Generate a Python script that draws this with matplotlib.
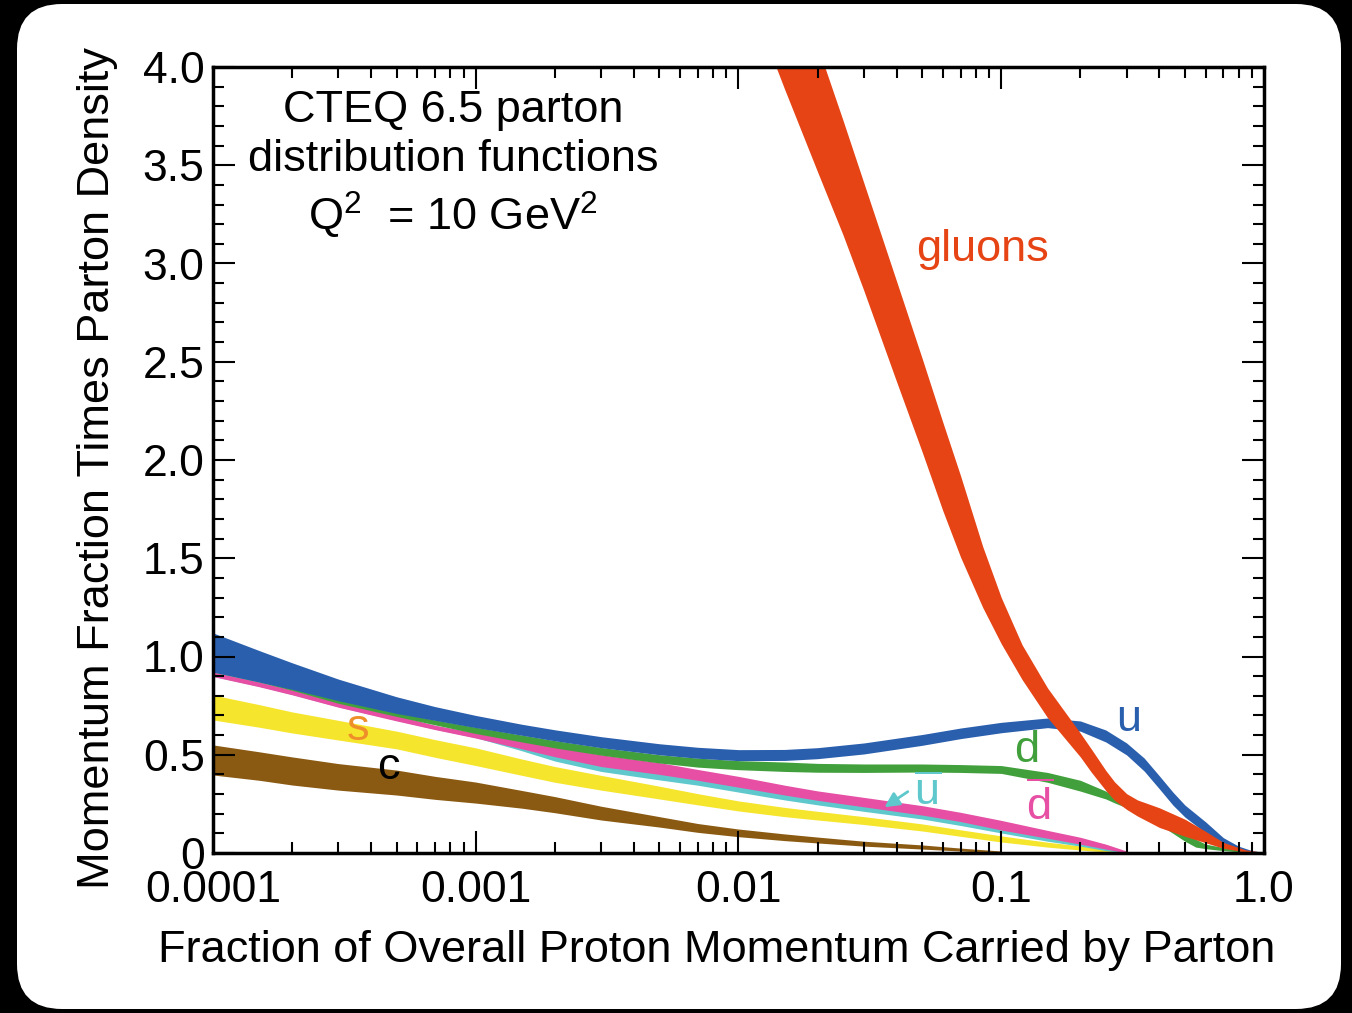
import numpy as np
import matplotlib
matplotlib.use('Agg')
from matplotlib import pyplot as plt
from matplotlib.patches import FancyBboxPatch
from matplotlib.ticker import FixedLocator, LogLocator, NullFormatter

plt.rcParams['font.family'] = ['Liberation Sans', 'DejaVu Sans']
plt.rcParams['mathtext.fontset'] = 'custom'
plt.rcParams['mathtext.rm'] = 'Liberation Sans'
plt.rcParams['mathtext.it'] = 'Liberation Sans'

# momentum fraction x, and x*f(x) bands (low, high)
x_u = [1e-4, 1.5e-4, 2e-4, 3e-4, 5e-4, 7e-4, 1e-3, 1.5e-3, 2e-3, 3e-3, 5e-3,
       7e-3, 0.01, 0.015, 0.02, 0.03, 0.05, 0.07, 0.1, 0.15, 0.2, 0.25, 0.3,
       0.35, 0.4, 0.45, 0.5, 0.6, 0.7, 0.8, 0.9, 1.0]
u_lo = [0.921, 0.870, 0.833, 0.775, 0.710, 0.675, 0.638, 0.599, 0.571, 0.536,
        0.500, 0.482, 0.470, 0.471, 0.480, 0.504, 0.548, 0.582, 0.612, 0.638,
        0.620, 0.565, 0.499, 0.417, 0.326, 0.244, 0.183, 0.102, 0.040, 0.012,
        0.003, 0.0]
u_hi = [1.120, 1.030, 0.968, 0.885, 0.795, 0.745, 0.700, 0.655, 0.627, 0.592,
        0.556, 0.538, 0.526, 0.527, 0.536, 0.560, 0.603, 0.636, 0.665, 0.687,
        0.672, 0.626, 0.560, 0.483, 0.392, 0.310, 0.244, 0.158, 0.078, 0.035,
        0.012, 0.003]

x_d = [1e-4, 1.5e-4, 2e-4, 3e-4, 5e-4, 7e-4, 1e-3, 1.5e-3, 2e-3, 3e-3, 5e-3,
       7e-3, 0.01, 0.015, 0.02, 0.03, 0.05, 0.07, 0.1, 0.15, 0.2, 0.25, 0.27,
       0.3, 0.33, 0.4, 0.5, 0.55, 0.6, 0.7, 0.85, 1.0]
d_lo = [0.921, 0.870, 0.828, 0.762, 0.695, 0.652, 0.608, 0.565, 0.535, 0.498,
        0.458, 0.437, 0.424, 0.415, 0.411, 0.410, 0.412, 0.410, 0.405, 0.360,
        0.315, 0.275, 0.255, 0.230, 0.200, 0.145, 0.060, 0.030, 0.022, 0.012,
        0.003, 0.0]
d_hi = [0.940, 0.890, 0.845, 0.780, 0.715, 0.677, 0.640, 0.600, 0.572, 0.537,
        0.500, 0.483, 0.470, 0.463, 0.456, 0.453, 0.453, 0.450, 0.445, 0.410,
        0.370, 0.315, 0.290, 0.265, 0.240, 0.200, 0.100, 0.070, 0.045, 0.028,
        0.010, 0.002]

x_sea = [1e-4, 1.5e-4, 2e-4, 3e-4, 5e-4, 7e-4, 1e-3, 1.5e-3, 2e-3, 3e-3, 5e-3,
         7e-3, 0.01, 0.015, 0.02, 0.03, 0.05, 0.07, 0.1, 0.15, 0.2, 0.25, 0.3]
dbar_lo = [0.898, 0.846, 0.805, 0.742, 0.672, 0.628, 0.585, 0.530, 0.490,
           0.440, 0.400, 0.370, 0.335, 0.295, 0.268, 0.235, 0.193, 0.160,
           0.117, 0.075, 0.045, 0.020, 0.0]
dbar_hi = [0.921, 0.870, 0.830, 0.765, 0.700, 0.650, 0.612, 0.570, 0.540,
           0.500, 0.460, 0.425, 0.390, 0.345, 0.316, 0.283, 0.241, 0.207,
           0.166, 0.115, 0.080, 0.045, 0.010]
ubar_lo = [0.899, 0.848, 0.807, 0.744, 0.675, 0.630, 0.587, 0.520, 0.468,
           0.415, 0.372, 0.345, 0.310, 0.270, 0.245, 0.212, 0.173, 0.140,
           0.102, 0.060, 0.035, 0.012, 0.0]
ubar_hi = [0.919, 0.868, 0.828, 0.763, 0.698, 0.648, 0.610, 0.555, 0.510,
           0.455, 0.410, 0.380, 0.345, 0.305, 0.280, 0.247, 0.209, 0.175,
           0.132, 0.090, 0.060, 0.030, 0.005]

x_s = [1e-4, 1.5e-4, 2e-4, 3e-4, 5e-4, 7e-4, 1e-3, 1.5e-3, 2e-3, 3e-3, 5e-3,
       7e-3, 0.01, 0.015, 0.02, 0.03, 0.05, 0.07, 0.1, 0.15, 0.2, 0.25, 0.3]
s_lo = [0.677, 0.640, 0.611, 0.575, 0.530, 0.487, 0.445, 0.395, 0.360, 0.320,
        0.275, 0.245, 0.214, 0.185, 0.168, 0.145, 0.112, 0.085, 0.056, 0.030,
        0.015, 0.005, 0.0]
s_hi = [0.804, 0.755, 0.718, 0.675, 0.620, 0.577, 0.535, 0.478, 0.440, 0.395,
        0.340, 0.302, 0.265, 0.232, 0.212, 0.185, 0.148, 0.118, 0.087, 0.055,
        0.036, 0.018, 0.005]

x_c = [1e-4, 1.5e-4, 2e-4, 3e-4, 5e-4, 7e-4, 1e-3, 1.5e-3, 2e-3, 3e-3, 5e-3,
       7e-3, 0.01, 0.015, 0.02, 0.03, 0.05, 0.07, 0.1]
c_lo = [0.397, 0.370, 0.346, 0.320, 0.295, 0.273, 0.254, 0.228, 0.205, 0.168,
        0.132, 0.105, 0.083, 0.063, 0.051, 0.035, 0.020, 0.010, 0.0]
c_hi = [0.550, 0.515, 0.489, 0.455, 0.422, 0.390, 0.361, 0.318, 0.287, 0.238,
        0.185, 0.150, 0.122, 0.097, 0.081, 0.060, 0.041, 0.025, 0.010]

x_g = [0.012, 0.015, 0.02, 0.025, 0.03, 0.04, 0.05, 0.06, 0.07, 0.085, 0.1,
       0.12, 0.15, 0.2, 0.22, 0.25, 0.27, 0.3, 0.33, 0.4, 0.5, 0.6, 0.7,
       0.85, 1.0]
g_lo = [4.22, 3.885, 3.466, 3.145, 2.862, 2.397, 2.041, 1.740, 1.506, 1.250,
        1.065, 0.883, 0.689, 0.489, 0.412, 0.318, 0.268, 0.222, 0.188, 0.130,
        0.085, 0.052, 0.024, 0.005, 0.0]
g_hi = [4.98, 4.61, 4.107, 3.728, 3.410, 2.908, 2.517, 2.190, 1.920, 1.560,
        1.300, 1.060, 0.840, 0.610, 0.530, 0.420, 0.362, 0.302, 0.270, 0.230,
        0.172, 0.110, 0.054, 0.016, 0.003]

y_ticks = [0, 0.5, 1.0, 1.5, 2.0, 2.5, 3.0, 3.5, 4.0]
y_ticklabels = ['0', '0.5', '1.0', '1.5', '2.0', '2.5', '3.0', '3.5', '4.0']
x_ticks = [1e-4, 1e-3, 1e-2, 1e-1, 1.0]
x_ticklabels = ['0.0001', '0.001', '0.01', '0.1', '1.0']

c_blue = '#2a5fae'
c_green = '#41a03c'
c_pink = '#e64fa4'
c_cyan = '#5ec8cc'
c_yellow = '#f5e52c'
c_brown = '#8b5a12'
c_red = '#e64415'
c_orange = '#ef8f2a'

fig = plt.figure(figsize=(13.52, 10.13), dpi=100, facecolor='black')
# white rounded card on black, kept behind the axes
card = FancyBboxPatch((17, 4), 1324, 1005, boxstyle='round,pad=0,rounding_size=45',
                      transform=None, facecolor='white', edgecolor='none',
                      zorder=-10)
fig.patches.append(card)

ax = fig.add_axes([213/1352, 1 - 853/1013, 1051/1352, 786/1013])
ax.set_facecolor('white')
ax.set_xscale('log')

ax.fill_between(x_c, c_lo, c_hi, color=c_brown, lw=0)
ax.fill_between(x_s, s_lo, s_hi, color=c_yellow, lw=0)
ax.fill_between(x_sea, ubar_lo, ubar_hi, color=c_cyan, lw=0)
ax.fill_between(x_sea, dbar_lo, dbar_hi, color=c_pink, lw=0)
ax.fill_between(x_d, d_lo, d_hi, color=c_green, lw=0)
ax.fill_between(x_u, u_lo, u_hi, color=c_blue, lw=0)
ax.fill_between(x_g, g_lo, g_hi, color=c_red, lw=0)

ax.set_xlim(1e-4, 1.0)
ax.set_ylim(0, 4.0)

lab = dict(fontsize=32.5, ha='center', va='center')
ax.text(0.0845, 3.07, 'gluons', color=c_red, **lab)
ax.text(0.304, 0.68, 'u', color=c_blue, **lab)
ax.text(0.125, 0.52, 'd', color=c_green, **lab)
ax.text(0.0522, 0.30, r'$\overline{\mathrm{u}}$', color=c_cyan, **lab)
ax.text(0.140, 0.24, r'$\overline{\mathrm{d}}$', color=c_pink, **lab)
ax.text(3.56e-4, 0.636, 's', color=c_orange, **lab)
ax.text(4.64e-4, 0.433, 'c', color='black', **lab)
ax.annotate('', xy=(0.0352, 0.225), xytext=(0.045, 0.32),
            arrowprops=dict(arrowstyle='-|>', color=c_cyan, lw=2,
                            mutation_scale=22))

ax.text(8.2e-4, 3.50, 'CTEQ 6.5 parton\ndistribution functions\n'
        r'Q$^2$  = 10 GeV$^2$', ha='center', va='center', fontsize=32.5,
        linespacing=1.25)

ax.xaxis.set_major_locator(FixedLocator(x_ticks))
ax.set_xticklabels(x_ticklabels)
ax.xaxis.set_minor_locator(LogLocator(base=10, subs=np.arange(2, 10)))
ax.xaxis.set_minor_formatter(NullFormatter())
ax.set_yticks(y_ticks)
ax.set_yticklabels(y_ticklabels)
ax.set_yticks(np.arange(0, 4.01, 0.1), minor=True)

ax.tick_params(which='both', direction='in', top=True, right=True, width=1.5)
ax.tick_params(which='major', length=16, labelsize=32)
ax.tick_params(which='minor', length=8)
ax.tick_params(axis='x', which='major', pad=12)
ax.tick_params(axis='y', which='major', pad=6)
for sp in ax.spines.values():
    sp.set_linewidth(2.5)

ax.set_xlabel('Fraction of Overall Proton Momentum Carried by Parton',
              fontsize=32.5, labelpad=14, x=0.4795)
ax.set_ylabel('Momentum Fraction Times Parton Density', fontsize=32.5,
              labelpad=18, y=0.49)

plt.savefig('out.png', dpi=100, facecolor='black')
